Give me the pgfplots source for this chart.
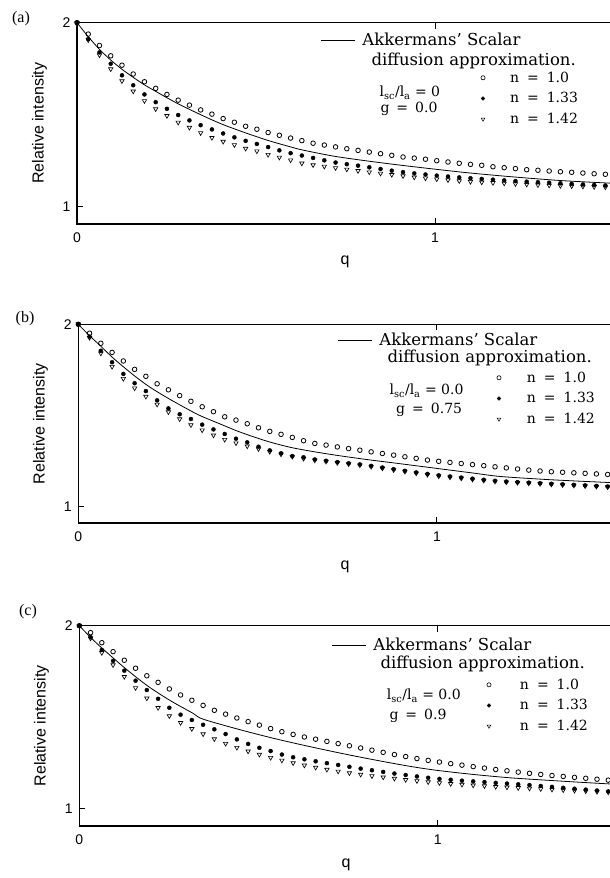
\documentclass[border=0pt]{standalone}
\usepackage{pgfplots}
\pgfplotsset{compat=1.18}
\usepackage{pgfplotstable}
\usepackage{fontspec}
\setmainfont{DejaVu Serif}
\setsansfont{Liberation Sans}
\newfontfamily\capfont{Liberation Serif}

% panel (a): g = 0.0
\pgfplotstableread{
q c d t
0.0000 2.000 2.000 2.000
0.0314 1.938 1.911 1.906
0.0628 1.876 1.839 1.824
0.0942 1.820 1.777 1.748
0.1256 1.769 1.714 1.683
0.1570 1.721 1.660 1.627
0.1884 1.679 1.610 1.575
0.2198 1.643 1.568 1.531
0.2512 1.610 1.532 1.494
0.2826 1.579 1.498 1.458
0.3140 1.552 1.469 1.430
0.3454 1.526 1.443 1.401
0.3768 1.503 1.420 1.375
0.4082 1.479 1.398 1.354
0.4396 1.459 1.377 1.336
0.4710 1.437 1.358 1.316
0.5024 1.421 1.341 1.302
0.5338 1.403 1.324 1.283
0.5652 1.388 1.306 1.268
0.5966 1.373 1.291 1.253
0.6280 1.359 1.278 1.236
0.6594 1.345 1.265 1.227
0.6908 1.335 1.252 1.219
0.7222 1.325 1.240 1.211
0.7536 1.315 1.231 1.203
0.7850 1.306 1.223 1.195
0.8164 1.297 1.214 1.188
0.8478 1.288 1.205 1.181
0.8792 1.279 1.196 1.174
0.9106 1.270 1.188 1.167
0.9420 1.264 1.181 1.160
0.9734 1.258 1.175 1.155
1.0048 1.250 1.169 1.150
1.0362 1.243 1.164 1.145
1.0676 1.236 1.159 1.140
1.0990 1.230 1.155 1.136
1.1304 1.225 1.151 1.133
1.1618 1.217 1.147 1.130
1.1932 1.212 1.143 1.127
1.2246 1.207 1.139 1.124
1.2560 1.201 1.136 1.121
1.2874 1.198 1.133 1.118
1.3188 1.194 1.130 1.116
1.3502 1.190 1.127 1.114
1.3816 1.187 1.124 1.112
1.4130 1.183 1.121 1.110
1.4444 1.179 1.118 1.108
1.4758 1.176 1.115 1.106
}\dataA
\pgfplotstableread{
q v
0.0000 2.000
0.0314 1.924
0.0628 1.855
0.0942 1.797
0.1256 1.747
0.1570 1.703
0.1884 1.662
0.2198 1.627
0.2512 1.592
0.2826 1.559
0.3140 1.529
0.3454 1.500
0.3768 1.472
0.4082 1.446
0.4396 1.423
0.4710 1.401
0.5024 1.380
0.5338 1.360
0.5652 1.342
0.5966 1.325
0.6280 1.309
0.7160 1.275
0.8090 1.249
0.9020 1.226
0.9950 1.205
1.0880 1.185
1.1820 1.168
1.2750 1.153
1.3680 1.140
1.4890 1.128
}\lineA

% panel (b): g = 0.75
\pgfplotstableread{
q c d t
0.0000 2.000 2.000 2.000
0.0314 1.951 1.932 1.927
0.0628 1.896 1.855 1.841
0.0942 1.846 1.792 1.768
0.1256 1.799 1.728 1.702
0.1570 1.753 1.677 1.650
0.1884 1.715 1.634 1.604
0.2198 1.674 1.583 1.561
0.2512 1.641 1.539 1.519
0.2826 1.609 1.507 1.481
0.3140 1.578 1.481 1.448
0.3454 1.548 1.450 1.420
0.3768 1.521 1.424 1.392
0.4082 1.493 1.399 1.368
0.4396 1.475 1.373 1.349
0.4710 1.455 1.353 1.332
0.5024 1.433 1.329 1.317
0.5338 1.413 1.309 1.302
0.5652 1.397 1.293 1.288
0.5966 1.380 1.278 1.275
0.6280 1.362 1.271 1.264
0.6594 1.347 1.259 1.255
0.6908 1.338 1.252 1.248
0.7222 1.328 1.245 1.241
0.7536 1.319 1.238 1.234
0.7850 1.310 1.232 1.228
0.8164 1.301 1.224 1.220
0.8478 1.292 1.215 1.211
0.8792 1.283 1.206 1.202
0.9106 1.274 1.197 1.193
0.9420 1.265 1.188 1.184
0.9734 1.256 1.180 1.176
1.0048 1.249 1.172 1.168
1.0362 1.243 1.166 1.162
1.0676 1.237 1.160 1.156
1.0990 1.231 1.154 1.150
1.1304 1.225 1.148 1.144
1.1618 1.219 1.142 1.139
1.1932 1.213 1.138 1.135
1.2246 1.207 1.135 1.132
1.2560 1.201 1.132 1.129
1.2874 1.196 1.129 1.126
1.3188 1.192 1.126 1.123
1.3502 1.189 1.123 1.120
1.3816 1.186 1.120 1.117
1.4130 1.183 1.117 1.114
1.4444 1.180 1.114 1.111
1.4758 1.177 1.111 1.108
}\dataB
\pgfplotstableread{
q v
0.000 2.000
0.030 1.940
0.060 1.885
0.100 1.810
0.157 1.717
0.200 1.655
0.250 1.595
0.300 1.540
0.339 1.500
0.400 1.450
0.450 1.410
0.525 1.360
0.600 1.322
0.700 1.288
0.800 1.260
0.897 1.236
1.000 1.210
1.100 1.185
1.176 1.166
1.300 1.150
1.400 1.140
1.490 1.132
}\lineB

% panel (c): g = 0.9
\pgfplotstableread{
q c d t
0.0000 2.000 2.000 2.000
0.0314 1.962 1.937 1.931
0.0628 1.907 1.867 1.852
0.0942 1.858 1.807 1.785
0.1256 1.811 1.754 1.721
0.1570 1.767 1.699 1.660
0.1884 1.726 1.648 1.603
0.2198 1.690 1.600 1.551
0.2512 1.654 1.551 1.506
0.2826 1.621 1.513 1.469
0.3140 1.592 1.484 1.436
0.3454 1.564 1.458 1.407
0.3768 1.537 1.433 1.380
0.4082 1.516 1.407 1.355
0.4396 1.495 1.378 1.333
0.4710 1.475 1.353 1.313
0.5024 1.456 1.332 1.295
0.5338 1.437 1.314 1.278
0.5652 1.420 1.295 1.263
0.5966 1.405 1.280 1.249
0.6280 1.391 1.269 1.236
0.6594 1.379 1.258 1.224
0.6908 1.367 1.248 1.213
0.7222 1.355 1.238 1.203
0.7536 1.343 1.228 1.194
0.7850 1.331 1.218 1.186
0.8164 1.319 1.209 1.178
0.8478 1.307 1.200 1.171
0.8792 1.295 1.191 1.164
0.9106 1.284 1.183 1.157
0.9420 1.273 1.175 1.151
0.9734 1.263 1.168 1.145
1.0048 1.254 1.162 1.140
1.0362 1.245 1.157 1.135
1.0676 1.237 1.152 1.131
1.0990 1.229 1.148 1.127
1.1304 1.221 1.144 1.123
1.1618 1.213 1.140 1.119
1.1932 1.206 1.136 1.116
1.2246 1.199 1.132 1.113
1.2560 1.192 1.128 1.110
1.2874 1.186 1.123 1.107
1.3188 1.180 1.118 1.104
1.3502 1.175 1.113 1.101
1.3816 1.170 1.108 1.098
1.4130 1.165 1.103 1.095
1.4444 1.160 1.098 1.092
1.4758 1.155 1.093 1.089
}\dataC
\pgfplotstableread{
q v
0.000 2.000
0.032 1.935
0.064 1.876
0.128 1.767
0.191 1.670
0.254 1.590
0.316 1.522
0.345 1.489
0.450 1.430
0.550 1.380
0.644 1.338
0.750 1.294
0.850 1.256
0.930 1.228
1.000 1.208
1.100 1.186
1.200 1.168
1.300 1.155
1.400 1.143
1.481 1.134
}\lineC

\pgfplotsset{
  panel/.style={
    scale only axis, anchor=south west,
    xmin=0, xmax=1.52, ymax=2,
    xtick={0,1}, ytick={1,2},
    tick align=inside, major tick length=6pt,
    axis line style={line width=1.1pt},
    major tick style={line width=1pt, black},
    /pgf/number format/assume math mode=true,
    tick label style={font=\sffamily\fontsize{14}{14}\selectfont},
    yticklabel style={xshift=-3pt},
    xticklabel style={yshift=-5pt},
    clip=false,
    legend cell align=left,
    legend style={draw=none, fill=none, inner sep=0pt, outer sep=0pt,
      nodes={inner sep=0pt}, anchor=west},
  },
  circ/.style={only marks, mark=o, mark size=2.3pt, mark options={line width=0.8pt, black}},
  dot/.style={only marks, mark=*, mark size=2.0pt, mark options={black}},
  tri/.style={only marks, mark=triangle, mark size=2.5pt, mark options={rotate=180, line width=0.65pt, black}},
  theory/.style={black, line width=0.8pt, smooth, no marks,
    legend image code/.code={\draw[black, line width=0.8pt] (0pt,0pt) -- (34pt,0pt); \path[draw=none, fill=none] (0pt,-1pt) rectangle (41pt,1pt);}},
  legmark/.style={legend image code/.code={\draw[##1] plot coordinates {(2.5pt,0pt)}; \path[draw=none, fill=none] (0pt,-1pt) rectangle (#1,1pt);}},
  legc/.style={only marks, mark=o, mark size=2.1pt, mark options={line width=0.6pt, black}, legmark=#1},
  legd/.style={only marks, mark=*, mark size=1.9pt, mark options={black}, legmark=#1},
  legt/.style={only marks, mark=triangle, mark size=2.1pt, mark options={rotate=180, line width=0.5pt, black}, legmark=#1},
}

\newcommand\bigtxt{\fontsize{16.5}{18}\selectfont}
\newcommand\midtxt{\fontsize{14}{16}\selectfont}

\begin{document}
\begin{tikzpicture}
\useasboundingbox (0pt,0pt) rectangle (610pt,878pt);
\clip (0pt,0pt) rectangle (610pt,878pt);

% ---------------- panel (a)
\begin{axis}[panel, at={(77pt,654pt)}, width=544.2pt, height=201.3pt, ymin=0.906,
  legend style={at={(axis description cs:0.4484,0.9141)}, font=\bigtxt}]
\addplot[tri, forget plot] table[x=q,y=t]{\dataA};
\addplot[dot, forget plot] table[x=q,y=d]{\dataA};
\addplot[circ, forget plot] table[x=q,y=c]{\dataA};
\addplot[theory] table[x=q,y=v]{\lineA};
\addlegendentry{Akkermans' Scalar}
\end{axis}
\begin{axis}[panel, hide axis, at={(77pt,654pt)}, width=544.2pt, height=201.3pt, ymin=0.906,
  legend style={at={(axis description cs:0.7415,0.6235)}, font=\midtxt, row sep=8.8pt}]
\addlegendimage{legc=29.5pt}
\addlegendentry{n\hspace{8pt}=\hspace{8pt}1.0}
\addlegendimage{legd=29.5pt}
\addlegendentry{n\hspace{8pt}=\hspace{8pt}1.33}
\addlegendimage{legt=29.5pt}
\addlegendentry{n\hspace{8pt}=\hspace{8pt}1.42}
\end{axis}
\node[anchor=base west, font=\bigtxt] at (368pt,812pt) {diffusion approximation.};
\node[anchor=base west, font=\midtxt] at (376pt,781pt) {l\textsubscript{sc}/l\textsubscript{a} = 0};
\node[anchor=base west, font=\midtxt] at (377pt,765pt) {g\hspace{7pt}=\hspace{7pt}0.0};
\node[font=\capfont\fontsize{16}{16}\selectfont] at (21pt,859.5pt) {(a)};
\node[rotate=90, anchor=base, font=\sffamily\fontsize{16}{16}\selectfont] at (43.5pt,754.6pt) {Relative intensity};
\node[anchor=base, font=\sffamily\fontsize{16}{16}\selectfont] at (345pt,613pt) {q};

% ---------------- panel (b)
\begin{axis}[panel, at={(78.3pt,355pt)}, width=545.2pt, height=198.7pt, ymin=0.911,
  legend style={at={(axis description cs:0.4763,0.921)}, font=\bigtxt}]
\addplot[tri, forget plot] table[x=q,y=t]{\dataB};
\addplot[dot, forget plot] table[x=q,y=d]{\dataB};
\addplot[circ, forget plot] table[x=q,y=c]{\dataB};
\addplot[theory] table[x=q,y=v]{\lineB};
\addlegendentry{Akkermans' Scalar}
\end{axis}
\begin{axis}[panel, hide axis, at={(78.3pt,355pt)}, width=545.2pt, height=198.7pt, ymin=0.911,
  legend style={at={(axis description cs:0.767,0.6266)}, font=\midtxt, row sep=8.8pt}]
\addlegendimage{legc=30.5pt}
\addlegendentry{n\hspace{8pt}=\hspace{8pt}1.0}
\addlegendimage{legd=30.5pt}
\addlegendentry{n\hspace{8pt}=\hspace{8pt}1.33}
\addlegendimage{legt=30.5pt}
\addlegendentry{n\hspace{8pt}=\hspace{8pt}1.42}
\end{axis}
\node[anchor=base west, font=\bigtxt] at (384pt,515pt) {diffusion approximation.};
\node[anchor=base west, font=\midtxt] at (386pt,483pt) {l\textsubscript{sc}/l\textsubscript{a} = 0.0};
\node[anchor=base west, font=\midtxt] at (392.7pt,464.7pt) {g\hspace{7pt}=\hspace{7pt}0.75};
\node[font=\capfont\fontsize{16}{16}\selectfont] at (25pt,559pt) {(b)};
\node[rotate=90, anchor=base, font=\sffamily\fontsize{16}{16}\selectfont] at (44.5pt,454.3pt) {Relative intensity};
\node[anchor=base, font=\sffamily\fontsize{16}{16}\selectfont] at (345pt,308pt) {q};

% ---------------- panel (c)
\begin{axis}[panel, at={(79.3pt,52pt)}, width=544.8pt, height=200.3pt, ymin=0.904,
  legend style={at={(axis description cs:0.4638,0.9036)}, font=\bigtxt}]
\addplot[tri, forget plot] table[x=q,y=t]{\dataC};
\addplot[dot, forget plot] table[x=q,y=d]{\dataC};
\addplot[circ, forget plot] table[x=q,y=c]{\dataC};
\addplot[theory] table[x=q,y=v]{\lineC};
\addlegendentry{Akkermans' Scalar}
\end{axis}
\begin{axis}[panel, hide axis, at={(79.3pt,52pt)}, width=544.8pt, height=200.3pt, ymin=0.904,
  legend style={at={(axis description cs:0.7474,0.6016)}, font=\midtxt, row sep=8.8pt}]
\addlegendimage{legc=33.5pt}
\addlegendentry{n\hspace{8pt}=\hspace{8pt}1.0}
\addlegendimage{legd=33.5pt}
\addlegendentry{n\hspace{8pt}=\hspace{8pt}1.33}
\addlegendimage{legt=33.5pt}
\addlegendentry{n\hspace{8pt}=\hspace{8pt}1.42}
\end{axis}
\node[anchor=base west, font=\bigtxt] at (377pt,209pt) {diffusion approximation.};
\node[anchor=base west, font=\midtxt] at (383.3pt,178pt) {l\textsubscript{sc}/l\textsubscript{a} = 0.0};
\node[anchor=base west, font=\midtxt] at (386pt,158pt) {g\hspace{7pt}=\hspace{7pt}0.9};
\node[font=\capfont\fontsize{16}{16}\selectfont] at (28pt,266pt) {(c)};
\node[rotate=90, anchor=base, font=\sffamily\fontsize{16}{16}\selectfont] at (45.5pt,152.1pt) {Relative intensity};
\node[anchor=base, font=\sffamily\fontsize{16}{16}\selectfont] at (346pt,10pt) {q};
\end{tikzpicture}
\end{document}
